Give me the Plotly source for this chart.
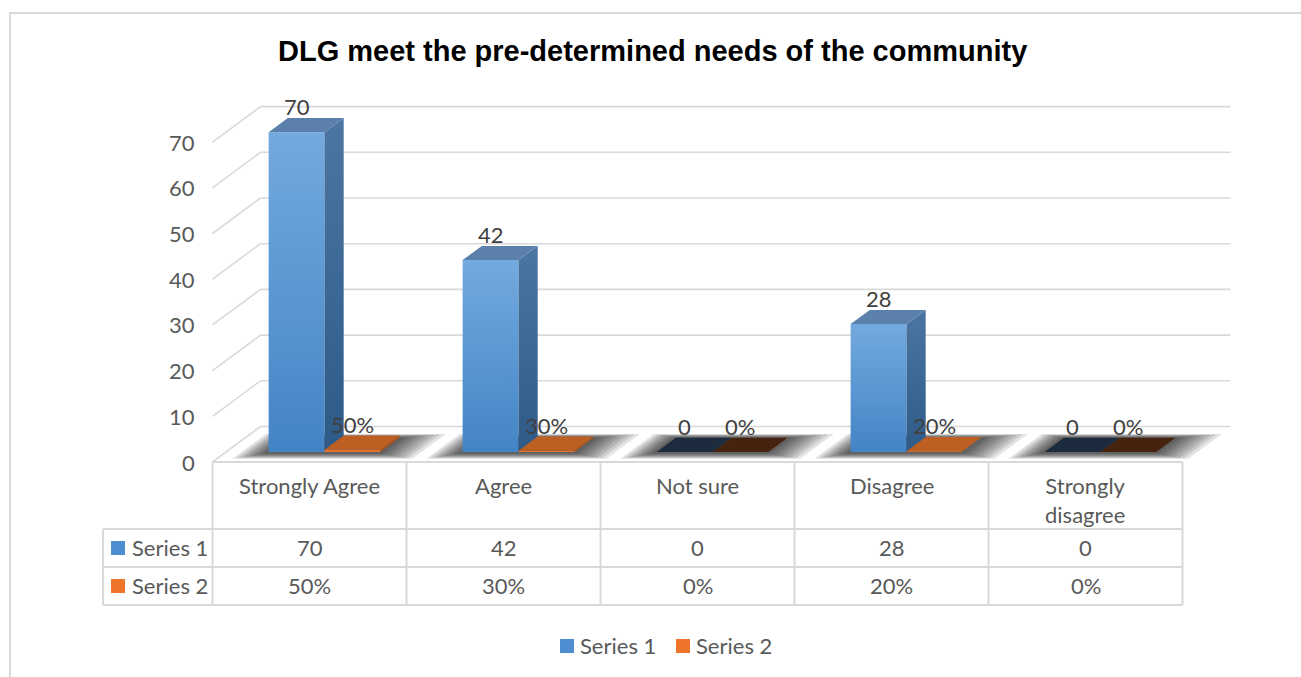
import plotly.graph_objects as go

# ---- data -------------------------------------------------------------
categories = ["Strongly Agree", "Agree", "Not sure", "Disagree", "Strongly disagree"]
header_labels = ["Strongly Agree", "Agree", "Not sure", "Disagree", "Strongly<br>disagree"]
series_names = ["Series 1", "Series 2"]
series1 = [70, 42, 0, 28, 0]
series2 = [0.50, 0.30, 0.0, 0.20, 0.0]
y_ticks = [0, 10, 20, 30, 40, 50, 60, 70]
title = "DLG meet the pre-determined needs of the community"

# ---- page geometry (pixels) ------------------------------------------
W, H = 1301, 677
X0_PX, Y0_PX = 212.5, 462.0      # front-left corner of the floor
CAT_PX = 194.0                   # width of one category slot
UNIT_PX = 4.57                   # pixels per value unit
DEPTH_X_PX, DEPTH_Y_PX = 48.0, 35.5  # oblique depth of the 3-D box

DXu = DEPTH_X_PX / CAT_PX
DYu = DEPTH_Y_PX / UNIT_PX

# bar placement inside a category slot (fractions of slot / depth)
BX0, BX1, BX2 = 0.22, 0.508, 0.796
Z0, Z1 = 0.28, 0.68

TEXT = "#595959"
GRID = "#d9d9d9"
FONT = "Lato, Calibri, sans-serif"
FS = 22


def proj(x, y, z):
    """Oblique projection of (category x, value y, depth z) onto the 2-D axes."""
    return x + z * DXu, y + z * DYu


def px_x(px):
    return px / W


def px_y(py):
    return 1 - py / H


def face(pts, color=None, grad=None):
    xs, ys = [], []
    for p in pts + [pts[0]]:
        a, b = proj(*p)
        xs.append(a)
        ys.append(b)
    kw = dict(x=xs, y=ys, mode="lines", fill="toself", line=dict(width=0),
              hoverinfo="skip", showlegend=False)
    if grad:
        kw["fillgradient"] = dict(type="vertical", colorscale=[[0, grad[0]], [1, grad[1]]])
        kw["fillcolor"] = grad[1]
    else:
        kw["fillcolor"] = color
    return go.Scatter(**kw)


def box(x0, x1, h, front, side, top):
    """Front, right side and top faces of a bar standing on the floor."""
    out = []
    out.append(face([(x0, 0, Z0), (x1, 0, Z0), (x1, h, Z0), (x0, h, Z0)],
                    grad=front if isinstance(front, tuple) else None,
                    color=None if isinstance(front, tuple) else front))
    out.append(face([(x1, 0, Z0), (x1, 0, Z1), (x1, h, Z1), (x1, h, Z0)],
                    grad=side if isinstance(side, tuple) else None,
                    color=None if isinstance(side, tuple) else side))
    out.append(face([(x0, h, Z0), (x1, h, Z0), (x1, h, Z1), (x0, h, Z1)], color=top))
    return out


fig = go.Figure()

# soft floor shadows under every bar pair
for i in range(len(categories)):
    for k in range(8, 0, -1):
        ex = 0.022 * k
        ez = 0.04 * k
        fig.add_trace(face([(i + BX0 - ex * 0.8, 0, Z0 - ez * 0.5 - 0.03),
                            (i + BX2 + ex * 1.2, 0, Z0 - ez * 0.5 - 0.03),
                            (i + BX2 + ex * 1.2, 0, Z1 + ez * 0.35),
                            (i + BX0 - ex * 0.8, 0, Z1 + ez * 0.35)],
                           color="rgba(0,0,0,0.11)"))

# bars
for i in range(len(categories)):
    v1, v2 = series1[i], series2[i]
    top1 = "#5a80ab" if v1 > 0 else "#1c2c3e"
    for tr in box(i + BX0, i + BX1, v1,
                  ("#4384c6", "#73aadf"), ("#2e5a88", "#4b76a2"), top1):
        fig.add_trace(tr)
    top2 = "#bd5e22" if v2 > 0 else "#45230f"
    for tr in box(i + BX1, i + BX2, v2, "#e2762e", "#a8521c", top2):
        fig.add_trace(tr)

shapes = []
# back wall and left wall gridlines
for v in y_ticks:
    xa, ya = proj(0, v, 1)
    xb, yb = proj(len(categories), v, 1)
    shapes.append(dict(type="line", xref="x", yref="y", x0=xa, y0=ya, x1=xb, y1=yb,
                       line=dict(color=GRID, width=1.6), layer="below"))
    xf, yf = proj(0, v, 0)
    shapes.append(dict(type="line", xref="x", yref="y", x0=xf, y0=yf, x1=xa, y1=ya,
                       line=dict(color=GRID, width=1.6), layer="below"))

annotations = []
# value axis labels
for v in y_ticks:
    annotations.append(dict(xref="x", yref="y", x=-0.078, y=v, text=str(v),
                            showarrow=False, xanchor="right", yanchor="middle",
                            font=dict(family=FONT, size=FS, color=TEXT)))

# data labels above each bar
LABEL_UP = 25.5 / UNIT_PX
for i in range(len(categories)):
    cx, cy = proj(i + (BX0 + BX1) / 2, series1[i], Z0)
    annotations.append(dict(xref="x", yref="y", x=cx, y=cy + LABEL_UP, text=str(series1[i]),
                            showarrow=False, xanchor="center", yanchor="middle",
                            font=dict(family=FONT, size=FS, color="#404040")))
    cx, cy = proj(i + (BX1 + BX2) / 2, series2[i], Z0)
    annotations.append(dict(xref="x", yref="y", x=cx, y=cy + LABEL_UP,
                            text=f"{round(series2[i] * 100)}%",
                            showarrow=False, xanchor="center", yanchor="middle",
                            font=dict(family=FONT, size=FS, color="#404040")))

# ---- data table ------------------------------------------------------
T_TOP, T_R1, T_R2, T_BOT = 462, 529, 567, 605
T_LEFT = 103
T_RIGHT = X0_PX + CAT_PX * len(categories)


def hline(py, a, b):
    shapes.append(dict(type="line", xref="paper", yref="paper", x0=px_x(a), x1=px_x(b),
                       y0=px_y(py), y1=px_y(py), line=dict(color=GRID, width=2)))


def vline(px, a, b):
    shapes.append(dict(type="line", xref="paper", yref="paper", x0=px_x(px), x1=px_x(px),
                       y0=px_y(a), y1=px_y(b), line=dict(color=GRID, width=2)))


hline(T_TOP, X0_PX, T_RIGHT)
for py in (T_R1, T_R2, T_BOT):
    hline(py, T_LEFT, T_RIGHT)
for k in range(len(categories) + 1):
    vline(X0_PX + CAT_PX * k, T_TOP, T_BOT)
vline(T_LEFT, T_R1, T_BOT)

series_colors = ["#4d8ed3", "#ed7428"]
row_centres = [(T_R1 + T_R2) / 2 - 1, (T_R2 + T_BOT) / 2 - 1]


def text_at(px, py, txt, xanchor="center", yanchor="middle", color=TEXT):
    annotations.append(dict(xref="paper", yref="paper", x=px_x(px), y=px_y(py), text=txt,
                            showarrow=False, xanchor=xanchor, yanchor=yanchor,
                            font=dict(family=FONT, size=FS, color=color)))


for i, lab in enumerate(header_labels):
    cx = X0_PX + CAT_PX * (i + 0.5)
    text_at(cx, 470, lab, yanchor="top")
    text_at(cx, row_centres[0], str(series1[i]))
    text_at(cx, row_centres[1], f"{round(series2[i] * 100)}%")

for r, name in enumerate(series_names):
    cy = row_centres[r]
    shapes.append(dict(type="rect", xref="paper", yref="paper",
                       x0=px_x(111), x1=px_x(125), y0=px_y(cy - 6), y1=px_y(cy + 8),
                       fillcolor=series_colors[r], line=dict(width=0)))
    text_at(130, cy, name, xanchor="left")

# ---- legend ---------------------------------------------------------
LEG_Y = 645
for r, (name, lx) in enumerate(zip(series_names, (560, 676))):
    shapes.append(dict(type="rect", xref="paper", yref="paper",
                       x0=px_x(lx), x1=px_x(lx + 14), y0=px_y(LEG_Y - 6), y1=px_y(LEG_Y + 8),
                       fillcolor=series_colors[r], line=dict(width=0)))
    text_at(lx + 18, LEG_Y, name, xanchor="left")

# chart frame
shapes.append(dict(type="rect", xref="paper", yref="paper", x0=px_x(10), x1=px_x(1320),
                   y0=px_y(700), y1=px_y(13), line=dict(color=GRID, width=2)))

# title
annotations.append(dict(xref="paper", yref="paper", x=px_x(652), y=px_y(51),
                        text=f"<b>{title}</b>", showarrow=False,
                        xanchor="center", yanchor="middle",
                        font=dict(family="Arial, Liberation Sans, sans-serif", size=29,
                                  color="#000000")))

fig.update_layout(
    width=W, height=H,
    margin=dict(l=0, r=0, t=0, b=0),
    paper_bgcolor="white", plot_bgcolor="white",
    showlegend=False,
    xaxis=dict(range=[-X0_PX / CAT_PX, (W - X0_PX) / CAT_PX], visible=False, fixedrange=True),
    yaxis=dict(range=[-(H - Y0_PX) / UNIT_PX, Y0_PX / UNIT_PX], visible=False, fixedrange=True),
    shapes=shapes,
    annotations=annotations,
)

fig.write_html("out.html")
